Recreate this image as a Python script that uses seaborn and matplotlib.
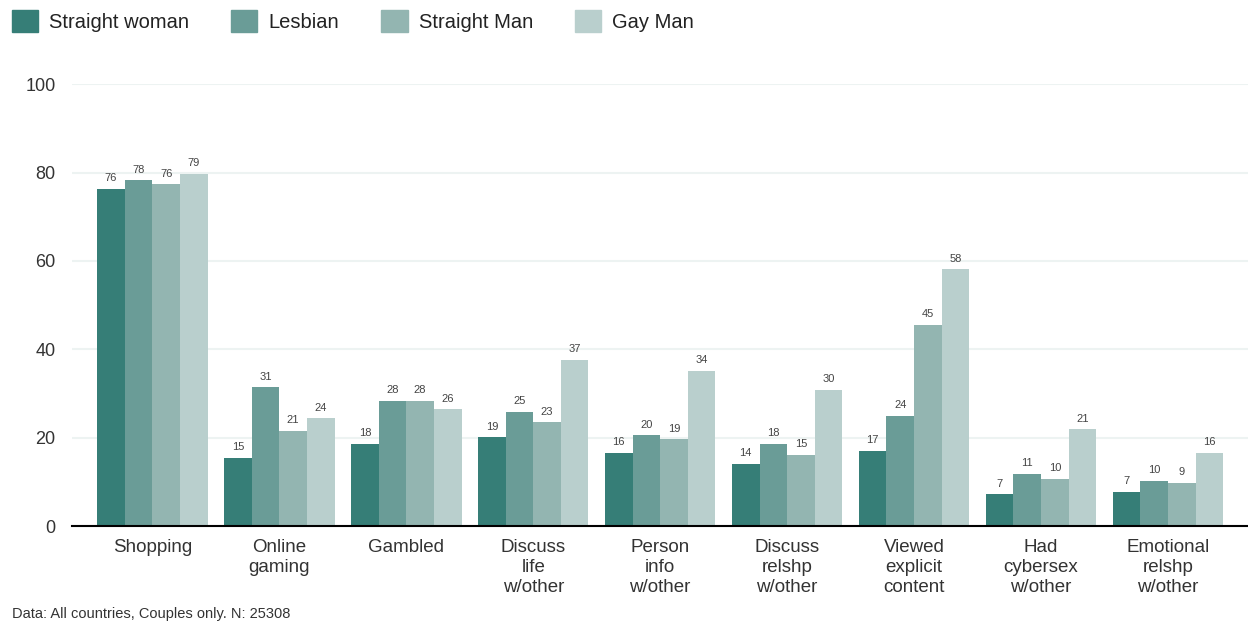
import numpy as np
import pandas as pd
import matplotlib
matplotlib.use('Agg')
import seaborn as sns
import matplotlib.pyplot as plt

activities = ["Shopping", "Online\ngaming", "Gambled", "Discuss\nlife\nw/other",
              "Person\ninfo\nw/other", "Discuss\nrelshp\nw/other", "Viewed\nexplicit\ncontent",
              "Had\ncybersex\nw/other", "Emotional\nrelshp\nw/other"]
groups = ["Straight woman", "Lesbian", "Straight Man", "Gay Man"]

# bar heights and the printed labels
straight_woman = [76.4, 15.5, 18.6, 20.1, 16.6, 14.1, 17.0, 7.2, 7.8]
lesbian = [78.3, 31.4, 28.4, 25.9, 20.5, 18.6, 25.0, 11.8, 10.2]
straight_man = [77.4, 21.5, 28.4, 23.5, 19.6, 16.1, 45.5, 10.7, 9.8]
gay_man = [79.7, 24.4, 26.4, 37.6, 35.2, 30.8, 58.1, 21.9, 16.6]

lab_straight_woman = [76, 15, 18, 19, 16, 14, 17, 7, 7]
lab_lesbian = [78, 31, 28, 25, 20, 18, 24, 11, 10]
lab_straight_man = [76, 21, 28, 23, 19, 15, 45, 10, 9]
lab_gay_man = [79, 24, 26, 37, 34, 30, 58, 21, 16]

colors = ["#367e77", "#6a9c97", "#93b5b1", "#b9cfcd"]

series = [straight_woman, lesbian, straight_man, gay_man]
labels = [lab_straight_woman, lab_lesbian, lab_straight_man, lab_gay_man]

rows = []
for g, vals in zip(groups, series):
    for a, v in zip(activities, vals):
        rows.append({"activity": a, "group": g, "value": v})
df = pd.DataFrame(rows)

sns.set_theme(style="white")
plt.rcParams['font.family'] = ['Liberation Sans', 'DejaVu Sans']

fig = plt.figure(figsize=(12.48, 6.24), dpi=100)
ax = fig.add_axes([0.058, 0.157, 0.942, 0.708])

sns.barplot(data=df, x="activity", y="value", hue="group", order=activities,
            hue_order=groups, palette=colors, width=0.87, saturation=1,
            errorbar=None, ax=ax, legend=False)

for cont, lab in zip(ax.containers, labels):
    for p in cont.patches:
        p.set_linewidth(0)
    ax.bar_label(cont, labels=[str(x) for x in lab], padding=4, fontsize=8, color="#444444")

ax.set_ylim(0, 100)
ax.set_xlim(-0.63, 8.63)
ax.set_yticks([0, 20, 40, 60, 80, 100])
ax.yaxis.grid(True, color="#edf3f2", linewidth=1.5)
ax.set_axisbelow(True)
ax.set_xlabel("")
ax.set_ylabel("")
ax.tick_params(axis='y', labelsize=13, colors="#333333", length=0, pad=12)
ax.tick_params(axis='x', labelsize=13.5, colors="#333333", length=0, pad=9)
for t in ax.get_xticklabels():
    t.set_linespacing(1.25)
for s in ["top", "right", "left"]:
    ax.spines[s].set_visible(False)
ax.spines["bottom"].set_color("black")
ax.spines["bottom"].set_linewidth(1.5)

handles = [matplotlib.patches.Patch(color=c, label=g) for c, g in zip(colors, groups)]
fig.legend(handles=handles, loc="upper left", bbox_to_anchor=(-0.002, 1.006), ncol=4,
           frameon=False, fontsize=14.5, handlelength=1.3, handleheight=1.3,
           columnspacing=2.1, handletextpad=0.55, borderaxespad=0.3,
           labelcolor="#222222")

fig.text(0.01, 0.01, "Data: All countries, Couples only. N: 25308", fontsize=10.5, color="#333333")

plt.savefig("out.png", dpi=100)
